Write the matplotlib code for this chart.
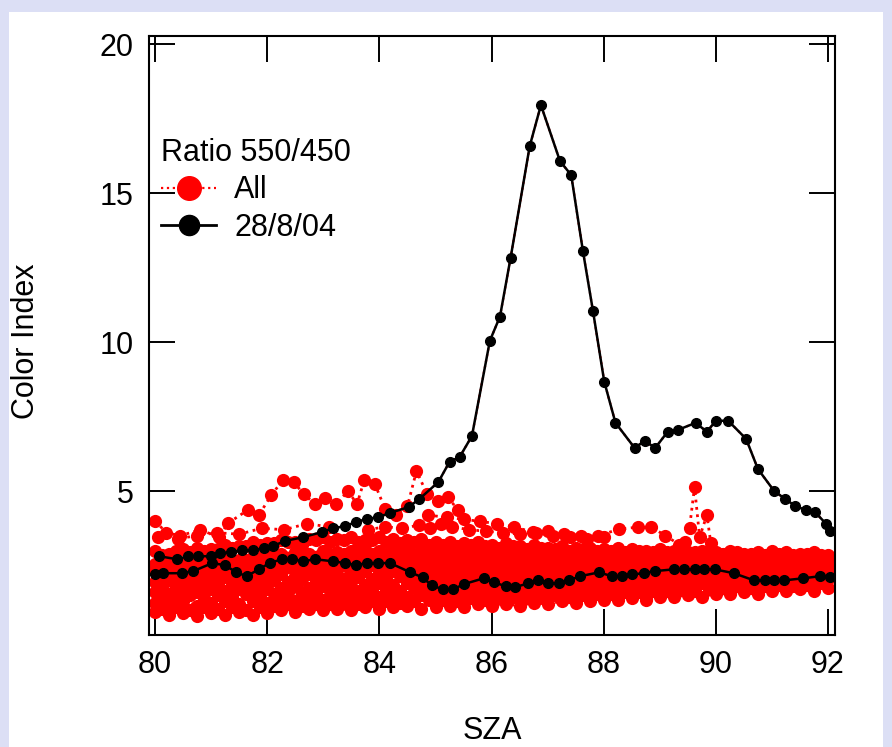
import numpy as np
import matplotlib
matplotlib.use('Agg')
import matplotlib.pyplot as plt
from matplotlib.lines import Line2D
from matplotlib.patches import Rectangle

plt.rcParams['font.family'] = ['Liberation Sans', 'DejaVu Sans']

#SZA sampling of the "All" days (two interleaved grids)
sza_a = np.arange(80, 92.001, 0.25)
sza_b = np.arange(80.125, 91.9, 0.25)

#Ratio 550/450, all days (grid a)
all_s0 = [0.95,0.85,0.9,0.8,0.9, 0.85,0.95,0.85,0.9, 1.0,0.95,1.05,1.0, 1.05,1.0,1.1,1.05, 1.1,1.15,1.05,1.1,
          1.15,1.1,1.2,1.15, 1.2,1.15,1.25,1.2, 1.3,1.25,1.3,1.35, 1.35,1.4,1.35,1.45, 1.45,1.5,1.45,1.55,
          1.55,1.6,1.55,1.65, 1.65,1.7,1.65,1.75]
all_s1 = [1.25,1.2,1.3,1.15,1.25, 1.3,1.2,1.3,1.25, 1.35,1.3,1.4,1.35, 1.4,1.45,1.4,1.45, 1.5,1.45,1.5,1.55,
          1.5,1.55,1.6,1.55, 1.6,1.55,1.65,1.6, 1.7,1.65,1.7,1.75, 1.75,1.8,1.75,1.8, 1.85,1.8,1.9,1.85,
          1.9,1.95,1.9,1.95, 2.0,1.95,2.0,2.05]
all_s2 = [1.6,1.55,1.65,1.6,1.7, 1.65,1.7,1.75,1.7, 1.75,1.8,1.75,1.8, 1.85,1.8,1.85,1.9, 1.85,1.9,1.95,1.9,
          1.95,1.9,2.0,1.95, 2.0,2.05,2.0,2.05, 2.1,2.05,2.1,2.1, 2.15,2.1,2.15,2.2, 2.2,2.15,2.2,2.25,
          2.25,2.2,2.25,2.3, 2.3,2.25,2.3,2.3]
all_s3 = [1.95,2.0,1.9,2.05,2.0, 2.1,2.05,2.15,2.1, 2.2,2.15,2.2,2.25, 2.2,2.25,2.3,2.25, 2.3,2.25,2.3,2.35,
          2.3,2.35,2.3,2.35, 2.35,2.4,2.35,2.4, 2.4,2.35,2.4,2.45, 2.4,2.45,2.4,2.45, 2.45,2.5,2.45,2.5,
          2.45,2.5,2.45,2.5, 2.5,2.45,2.5,2.5]
all_s4 = [2.3,2.35,2.25,2.4,2.35, 2.45,2.4,2.5,2.55, 2.6,2.55,2.65,2.6, 2.65,2.6,2.7,2.65, 2.7,2.65,2.7,2.7,
          2.7,2.65,2.7,2.65, 2.7,2.65,2.7,2.65, 2.7,2.65,2.7,2.65, 2.65,2.7,2.65,2.7, 2.7,2.65,2.7,2.65,
          2.65,2.7,2.65,2.7, 2.65,2.7,2.7,2.7]
all_s5 = [2.55,2.6,2.5,2.65,2.7, 2.75,2.7,2.8,2.85, 2.9,2.95,2.9,3.0, 2.95,3.0,3.05,3.0, 3.0,3.05,3.0,2.95,
          3.0,2.95,2.95,2.9, 2.95,2.9,2.95,2.9, 2.9,2.85,2.9,2.85, 2.85,2.9,2.85,2.85, 2.8,2.85,2.8,2.85,
          2.8,2.85,2.8,2.8, 2.85,2.8,2.85,2.8]
all_s6 = [3.0,2.9,3.05,3.1,3.05, 3.2,3.15,3.3,3.25, 3.35,3.3,3.4,3.45, 3.4,3.45,3.35,3.45, 3.4,3.35,3.4,3.3,
          3.3,3.25,3.3,3.2, 3.25,3.15,3.2,3.1, 3.15,3.1,3.1,3.05, 3.1,3.05,3.0,3.05, 3.0,2.95,3.0,2.95,
          3.0,2.9,2.95,3.0, 2.95,2.9,2.95,2.85]

#Ratio 550/450, all days (grid b)
all_o1 = [1.05,1.1,1.0,1.1, 1.05,1.1,1.0,1.1, 1.15,1.2,1.15,1.2, 1.2,1.25,1.2,1.3, 1.3,1.25,1.3,1.35,
          1.35,1.3,1.4,1.35, 1.4,1.45,1.4,1.45, 1.5,1.45,1.5,1.55, 1.55,1.6,1.6,1.65, 1.65,1.7,1.65,1.7,
          1.75,1.8,1.75,1.8, 1.85,1.8,1.85,1.9]
all_o2 = [1.8,1.75,1.85,1.8, 1.9,1.85,1.95,1.9, 2.0,1.95,2.05,2.0, 2.05,2.0,2.1,2.05, 2.1,2.15,2.1,2.15,
          2.15,2.1,2.15,2.2, 2.2,2.15,2.2,2.25, 2.25,2.2,2.25,2.3, 2.3,2.25,2.3,2.35, 2.35,2.3,2.35,2.4,
          2.35,2.4,2.35,2.4, 2.4,2.35,2.4,2.4]
all_o3 = [2.5,2.45,2.6,2.55, 2.65,2.6,2.7,2.75, 2.8,2.75,2.85,2.8, 2.85,2.9,2.85,2.9, 2.85,2.9,2.85,2.8,
          2.85,2.8,2.85,2.8, 2.8,2.85,2.8,2.8, 2.8,2.75,2.8,2.75, 2.75,2.8,2.75,2.8, 2.75,2.7,2.75,2.7,
          2.75,2.7,2.75,2.75, 2.75,2.7,2.75,2.75]
all_o4 = [2.85,3.0,2.95,3.0, 3.05,3.1,3.15,3.2, 3.25,3.3,3.2,3.35, 3.3,3.35,3.3,3.35, 3.3,3.25,3.3,3.2,
          3.2,3.15,3.2,3.15, 3.1,3.15,3.05,3.1, 3.05,3.0,3.05,3.0, 3.0,2.95,3.0,2.95, 2.95,2.9,2.95,2.9,
          2.9,2.95,2.9,2.85, 2.9,2.85,2.9,2.85]
all_o5 = [1.45,1.4,1.5,1.4, 1.5,1.45,1.55,1.5, 1.55,1.6,1.55,1.6, 1.65,1.6,1.65,1.7, 1.7,1.65,1.75,1.7,
          1.75,1.7,1.8,1.75, 1.8,1.85,1.8,1.85, 1.9,1.85,1.9,1.95, 1.95,2.0,1.95,2.0, 2.0,2.05,2.0,2.05,
          2.1,2.05,2.1,2.1, 2.15,2.1,2.15,2.2]
all_o6 = [2.15,2.1,2.2,2.15, 2.3,2.25,2.35,2.3, 2.4,2.45,2.4,2.45, 2.45,2.5,2.45,2.5, 2.5,2.45,2.5,2.55,
          2.5,2.55,2.5,2.55, 2.55,2.5,2.55,2.5, 2.55,2.6,2.55,2.6, 2.55,2.6,2.55,2.6, 2.6,2.55,2.6,2.55,
          2.6,2.55,2.6,2.6, 2.6,2.6,2.55,2.6]

#Days with higher ratios
high1_sza = [80.0, 80.2, 80.45, 80.8, 81.14, 81.3, 81.65, 81.85, 82.07, 82.28, 82.47, 82.65, 82.85, 83.03,
             83.23, 83.44, 83.6, 83.73, 83.92, 84.1, 84.3, 84.5, 84.66, 84.85, 85.04, 85.22, 85.4]
high1_val = [3.99, 3.6, 3.5, 3.7, 3.45, 3.92, 4.36, 4.19, 4.86, 5.37, 5.30, 4.9, 4.56, 4.76,
             4.56, 5.0, 4.56, 5.37, 5.23, 4.4, 4.2, 4.5, 5.67, 4.9, 4.66, 4.8, 4.36]
high2_sza = [84.86, 85.2, 85.5, 85.8, 86.1, 86.4, 86.73, 87.0, 87.3, 87.6, 87.9, 88.28, 88.62, 88.85, 89.1, 89.35]
high2_val = [4.19, 4.12, 4.05, 3.98, 3.9, 3.8, 3.62, 3.65, 3.55, 3.5, 3.5, 3.72, 3.79, 3.79, 3.5, 3.2]
high3_sza = [83.8, 84.1, 84.4, 84.7, 84.9, 85.1, 85.3, 85.6, 85.9, 86.2, 86.5, 86.8, 87.1, 87.4, 87.7, 88.0]
high3_val = [3.7, 3.8, 3.75, 3.85, 3.76, 3.9, 3.8, 3.7, 3.65, 3.6, 3.55, 3.6, 3.5, 3.45, 3.4, 3.45]
high4_sza = [80.05, 80.4, 80.75, 81.1, 81.5, 81.9, 82.3, 82.7, 83.1]
high4_val = [3.45, 3.4, 3.5, 3.6, 3.55, 3.75, 3.7, 3.9, 3.8]
spike_sza = [89.3, 89.45, 89.53, 89.62, 89.71, 89.84, 89.91, 90.05]
spike_val = [3.0, 3.3, 3.76, 5.14, 3.45, 4.19, 3.25, 2.9]

#28/8/04
day_hi_sza = [80.07, 80.39, 80.59, 80.77, 80.99, 81.16, 81.36, 81.54, 81.74, 81.94, 82.10, 82.31, 82.64, 82.97,
              83.17, 83.39, 83.58, 83.78, 83.98, 84.18, 84.52, 84.71, 85.05, 85.25, 85.43, 85.65, 85.97, 86.15,
              86.34, 86.68, 86.88, 87.22, 87.42, 87.63, 87.81, 88.01, 88.21, 88.55, 88.73, 88.92, 89.14, 89.32,
              89.64, 89.84, 90.00, 90.22, 90.54, 90.75, 91.04, 91.24, 91.42, 91.61, 91.77, 91.97, 92.04]
day_hi_val = [2.81, 2.71, 2.81, 2.81, 2.81, 2.91, 2.95, 3.01, 3.01, 3.08, 3.15, 3.32, 3.45, 3.62,
              3.75, 3.82, 3.96, 4.06, 4.12, 4.26, 4.46, 4.73, 5.30, 5.98, 6.14, 6.85, 10.05, 10.86,
              12.84, 16.58, 17.96, 16.08, 15.61, 13.05, 11.03, 8.67, 7.29, 6.45, 6.68, 6.45, 6.99, 7.05,
              7.29, 6.99, 7.36, 7.36, 6.75, 5.74, 5.00, 4.73, 4.49, 4.36, 4.29, 3.89, 3.65]
day_lo_sza = [80.0, 80.14, 80.48, 80.68, 81.02, 81.24, 81.45, 81.63, 81.85, 82.04, 82.26, 82.44, 82.64, 82.85,
              83.17, 83.39, 83.58, 83.78, 83.98, 84.19, 84.55, 84.77, 84.93, 85.13, 85.32, 85.50, 85.86, 86.04,
              86.25, 86.42, 86.65, 86.83, 87.00, 87.20, 87.38, 87.58, 87.92, 88.14, 88.32, 88.51, 88.71, 88.91,
              89.25, 89.44, 89.62, 89.79, 89.98, 90.32, 90.68, 90.88, 91.04, 91.22, 91.56, 91.86, 92.04]
day_lo_val = [2.20, 2.24, 2.24, 2.31, 2.58, 2.51, 2.27, 2.14, 2.37, 2.58, 2.71, 2.71, 2.64, 2.71,
              2.64, 2.58, 2.51, 2.58, 2.58, 2.58, 2.27, 2.10, 1.83, 1.70, 1.70, 1.87, 2.07, 1.94,
              1.80, 1.77, 1.90, 2.00, 1.90, 1.90, 2.00, 2.14, 2.27, 2.14, 2.14, 2.20, 2.24, 2.31,
              2.37, 2.37, 2.37, 2.37, 2.37, 2.24, 2.00, 2.00, 2.00, 2.00, 2.07, 2.14, 2.10]

x_ticks = [80, 82, 84, 86, 88, 90, 92]
y_ticks = [5, 10, 15, 20]

#################################################################################

fig = plt.figure(figsize=(8.92, 7.47), dpi=100, facecolor='#dcdff5')
fig.patches.append(Rectangle((9/892, 0), 874/892, 735/747, transform=fig.transFigure,
                             facecolor='white', edgecolor='none', zorder=-1))
ax = fig.add_axes([149/892, 112/747, 686/892, 599/747])

red_series = [(sza_a, v) for v in (all_s0, all_s1, all_s2, all_s3, all_s4, all_s5, all_s6)]
red_series += [(sza_b, v) for v in (all_o1, all_o5, all_o2, all_o6, all_o3, all_o4)]
red_series += [(high1_sza, high1_val), (high2_sza, high2_val), (high3_sza, high3_val),
               (high4_sza, high4_val), (spike_sza, spike_val)]
for x, y in red_series:
    ax.plot(x, y, color='red', ls=':', lw=2, marker='o', ms=9.5, mec='red', mew=0, zorder=2)

#28/8/04 is part of All as well
ax.plot(day_hi_sza, day_hi_val, color='red', ls=':', lw=1.6, zorder=2.5)
ax.plot(day_hi_sza, day_hi_val, color='black', lw=1.8, marker='o', ms=7, zorder=3)
ax.plot(day_lo_sza, day_lo_val, color='black', lw=1.8, marker='o', ms=7, zorder=3)

ax.set_xlim(79.89, 92.125)
ax.set_ylim(0.165, 20.28)
ax.set_xticks(x_ticks)
ax.set_yticks(y_ticks)
ax.tick_params(direction='in', length=19, width=1.4, top=True, right=True, labelsize=22, pad=11)
for sp in ax.spines.values():
    sp.set_linewidth(1.5)

ax.set_xlabel('SZA', fontsize=22)
ax.set_ylabel('Color Index', fontsize=22)
ax.xaxis.set_label_coords(0.5, -0.135)
ax.yaxis.set_label_coords(-0.158, 0.49)

handles = [Line2D([], [], color='red', ls=':', lw=1.6, marker='o', ms=17),
           Line2D([], [], color='black', lw=2, marker='o', ms=14.5)]
ax.legend(handles, ['All', '28/8/04'], title='Ratio 550/450', loc='upper left',
          bbox_to_anchor=(0.0175, 0.83), frameon=False, fontsize=22, title_fontsize=22,
          alignment='left', handlelength=1.8, handletextpad=0.6, labelspacing=0.25,
          borderpad=0, borderaxespad=0)

fig.savefig('out.png', dpi=100, facecolor=fig.get_facecolor())
